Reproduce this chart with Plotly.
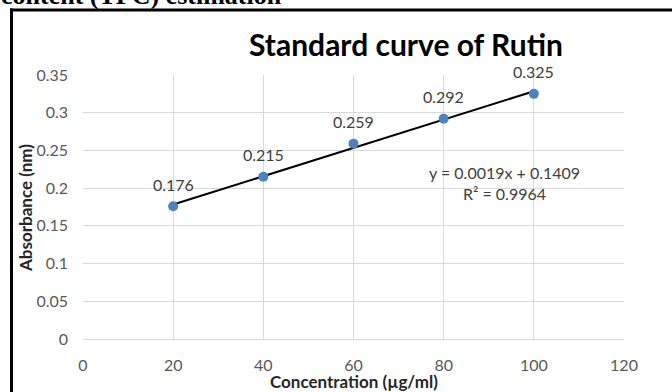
import numpy as np
import plotly.graph_objects as go

concentration = [20, 40, 60, 80, 100]
absorbance = [0.176, 0.215, 0.259, 0.292, 0.325]
x_ticks = [0, 20, 40, 60, 80, 100, 120]
y_ticks = [0, 0.05, 0.1, 0.15, 0.2, 0.25, 0.3, 0.35]
y_tick_labels = ["0", "0.05", "0.1", "0.15", "0.2", "0.25", "0.3", "0.35"]

slope, intercept = np.polyfit(concentration, absorbance, 1)
fit = np.polyval([slope, intercept], concentration)
r2 = 1 - np.sum((np.array(absorbance) - fit) ** 2) / np.sum((np.array(absorbance) - np.mean(absorbance)) ** 2)

FONT = "Lato"
W, H = 672, 392
L, R, T, B = 83, 48, 75, 53
pw, ph = W - L - R, H - T - B

def px(xp):
    return (xp - L) / pw

def py(yp):
    return (H - B - yp) / ph

fig = go.Figure()
fig.add_trace(go.Scatter(
    x=[concentration[0], concentration[-1]],
    y=[np.polyval([slope, intercept], concentration[0]), np.polyval([slope, intercept], concentration[-1])],
    mode="lines", line=dict(color="black", width=2), hoverinfo="skip", showlegend=False))
fig.add_trace(go.Scatter(
    x=concentration, y=absorbance, mode="markers",
    marker=dict(color="#4f81bd", size=10), showlegend=False))

def ann(x, y, text, size, color="#404040", family=FONT, **kw):
    d = dict(x=x, y=y, xref="paper", yref="paper", text=text, showarrow=False,
             xanchor="center", yanchor="middle", font=dict(family=family, size=size, color=color))
    d.update(kw)
    return d

annotations = []
for xv, yv in zip(concentration, absorbance):
    annotations.append(dict(x=xv, y=yv, xref="x", yref="y", text=f"{yv:.3f}", showarrow=False,
                            xanchor="center", yanchor="middle",
                            yshift=22, font=dict(family=FONT, size=16, color="#404040")))
annotations.append(ann(px(504), py(172), f"y = {slope:.4f}x + {intercept:.4f}", 16))
annotations.append(ann(px(504), py(193), f"R² = {r2:.4f}", 16))
annotations.append(ann(px(406), py(44), "<b>Standard curve of Rutin</b>", 30, color="black"))
annotations.append(ann(px(-1), py(-5), "<b>content (TPC) estimation</b>", 26, color="black",
                       family="Liberation Serif", xanchor="left"))
annotations.append(ann(px(25), py(208), "<b>Absorbance (nm)</b>", 17, color="#262626", textangle=-90))
annotations.append(ann(px(353.5), py(381.5), "<b>Concentration (µg/ml)</b>", 17, color="#262626"))

shapes = [
    dict(type="line", xref="paper", yref="paper", x0=px(11.5), x1=px(11.5), y0=py(400), y1=py(8.5),
         line=dict(color="black", width=3)),
    dict(type="line", xref="paper", yref="paper", x0=px(10), x1=px(680), y0=py(10), y1=py(10),
         line=dict(color="black", width=3)),
]

fig.update_layout(
    width=W, height=H, margin=dict(l=L, r=R, t=T, b=B),
    paper_bgcolor="white", plot_bgcolor="white",
    annotations=annotations, shapes=shapes,
    xaxis=dict(range=[0, 120], tickvals=x_ticks, ticktext=[str(v) for v in x_ticks],
               showgrid=True, gridcolor="#d9d9d9", gridwidth=1, zeroline=False,
               showline=True, linecolor="#d9d9d9", linewidth=1, ticks="",
               ticklabelstandoff=12, tickfont=dict(family=FONT, size=16, color="#595959")),
    yaxis=dict(range=[0, 0.35], tickvals=y_ticks, ticktext=y_tick_labels,
               showgrid=True, gridcolor="#d9d9d9", gridwidth=1, zeroline=False,
               showline=False, ticks="", ticklabelstandoff=14,
               tickfont=dict(family=FONT, size=16, color="#595959")),
)
fig.write_html("out.html", config={"displayModeBar": False},
               post_script="document.body.style.margin='0';")
